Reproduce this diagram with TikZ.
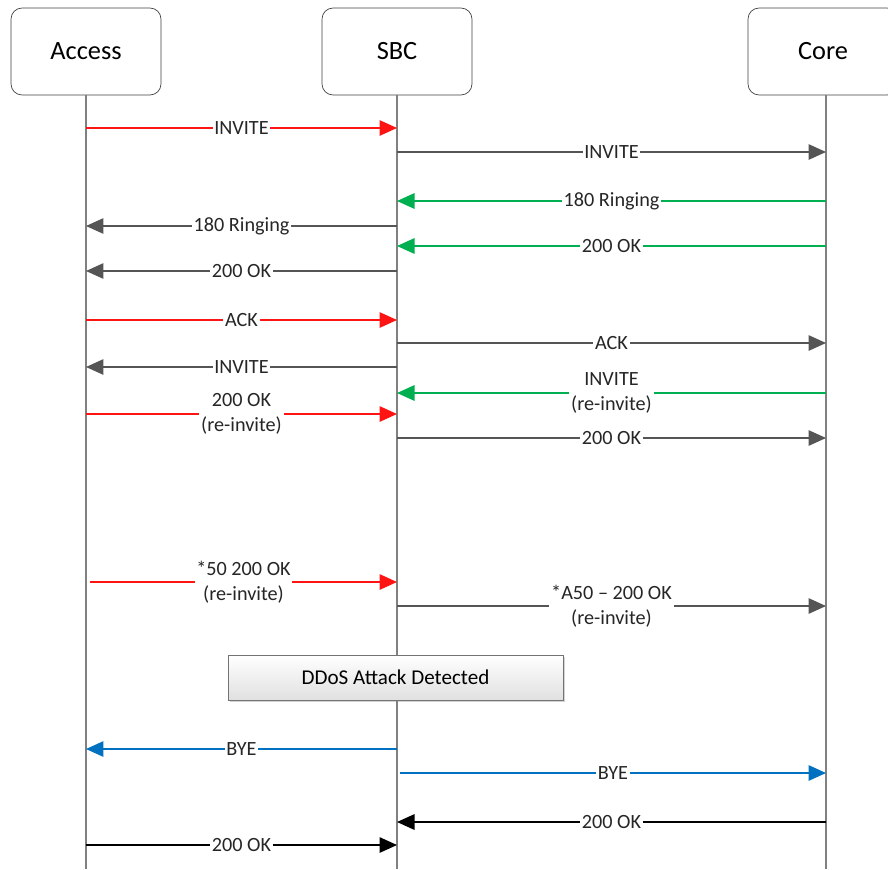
\documentclass[tikz,border=0pt]{standalone}
\usepackage{fontspec}
\setmainfont{Carlito}
\usetikzlibrary{arrows.meta,shadows}
\definecolor{sipred}{RGB}{255,20,20}
\definecolor{sipgray}{RGB}{85,85,85}
\definecolor{sipgreen}{RGB}{0,176,80}
\definecolor{sipblue}{RGB}{0,112,192}

\begin{document}
\begin{tikzpicture}[x=0.02cm,y=-0.02cm,
    >={Triangle[length=0.35cm,width=0.31cm]},
    actor/.style={draw=black!75,fill=white,rounded corners=0.22cm,minimum width=3cm,minimum height=1.74cm,font=\fontsize{15}{18}\selectfont},
    life/.style={draw=black!50,line width=0.7pt},
    msg/.style={->,line width=0.85pt},
    lbl/.style={fill=white,inner sep=1pt,text=black!85,font=\fontsize{11.5}{14}\selectfont,align=center}]
  \useasboundingbox (0,0) rectangle (888,869);
  \clip (0,0) rectangle (888,869);
  % actors and lifelines
  \node[actor] (access) at (86,51.5) {Access};
  \node[actor] (sbc) at (397,51.5) {SBC};
  \node[actor] (core) at (823,51.5) {Core};
  \coordinate (accessend) at (86,869);
  \coordinate (sbcend) at (397,869);
  \coordinate (coreend) at (826,869);
  \draw[life] (access.south) -- (accessend);
  \draw[life] (sbc.south) -- (sbcend);
  \draw[life] (core.south -| coreend) -- (coreend);
  % end points of the messages
  \coordinate (a1) at (86,128);  \coordinate (s1) at (397,128);
  \coordinate (s2) at (397,152); \coordinate (c2) at (826,152);
  \coordinate (c3) at (826,201); \coordinate (s3) at (397,201);
  \coordinate (s4) at (397,226); \coordinate (a4) at (86,226);
  \coordinate (c5) at (826,246); \coordinate (s5) at (397,246);
  \coordinate (s6) at (397,271); \coordinate (a6) at (86,271);
  \coordinate (a7) at (86,320);  \coordinate (s7) at (397,320);
  \coordinate (s8) at (397,343); \coordinate (c8) at (826,343);
  \coordinate (s9) at (397,367); \coordinate (a9) at (86,367);
  \coordinate (c10) at (826,393); \coordinate (s10) at (397,393);
  \coordinate (a11) at (86,414);  \coordinate (s11) at (397,414);
  \coordinate (s12) at (397,438); \coordinate (c12) at (826,438);
  \coordinate (a13) at (90,582);  \coordinate (s13) at (397,582);
  \coordinate (s14) at (397,606); \coordinate (c14) at (826,606);
  \coordinate (s16) at (397,749); \coordinate (a16) at (86,749);
  \coordinate (s17) at (400,773); \coordinate (c17) at (826,773);
  \coordinate (c18) at (826,822); \coordinate (s18) at (397,822);
  \coordinate (a19) at (86,845);  \coordinate (s19) at (397,845);
  % messages
  \draw[msg,sipred] (a1) -- node[lbl] {INVITE} (s1);
  \draw[msg,sipgray] (s2) -- node[lbl] {INVITE} (c2);
  \draw[msg,sipgreen] (c3) -- node[lbl] {180 Ringing} (s3);
  \draw[msg,sipgray] (s4) -- node[lbl] {180 Ringing} (a4);
  \draw[msg,sipgreen] (c5) -- node[lbl] {200 OK} (s5);
  \draw[msg,sipgray] (s6) -- node[lbl] {200 OK} (a6);
  \draw[msg,sipred] (a7) -- node[lbl] {ACK} (s7);
  \draw[msg,sipgray] (s8) -- node[lbl] {ACK} (c8);
  \draw[msg,sipgray] (s9) -- node[lbl] {INVITE} (a9);
  \draw[msg,sipgreen] (c10) -- node[lbl] {INVITE\\(re-invite)} (s10);
  \draw[msg,sipred] (a11) -- node[lbl] {200 OK\\(re-invite)} (s11);
  \draw[msg,sipgray] (s12) -- node[lbl] {200 OK} (c12);
  \draw[msg,sipred] (a13) -- node[lbl] {*50 200 OK\\(re-invite)} (s13);
  \draw[msg,sipgray] (s14) -- node[lbl] {*A50 -- 200 OK\\(re-invite)} (c14);
  % attack box
  \node[draw=black!55,top color=white,bottom color=black!12,drop shadow={shadow xshift=0.04cm,shadow yshift=-0.04cm,opacity=0.35},minimum width=6.7cm,minimum height=0.9cm,font=\fontsize{12}{14}\selectfont] (ddos) at (395.5,677.5) {DDoS Attack Detected};
  \draw[msg,sipblue] (s16) -- node[lbl] {BYE} (a16);
  \draw[msg,sipblue] (s17) -- node[lbl] {BYE} (c17);
  \draw[msg,black] (c18) -- node[lbl] {200 OK} (s18);
  \draw[msg,black] (a19) -- node[lbl] {200 OK} (s19);
\end{tikzpicture}
\end{document}
